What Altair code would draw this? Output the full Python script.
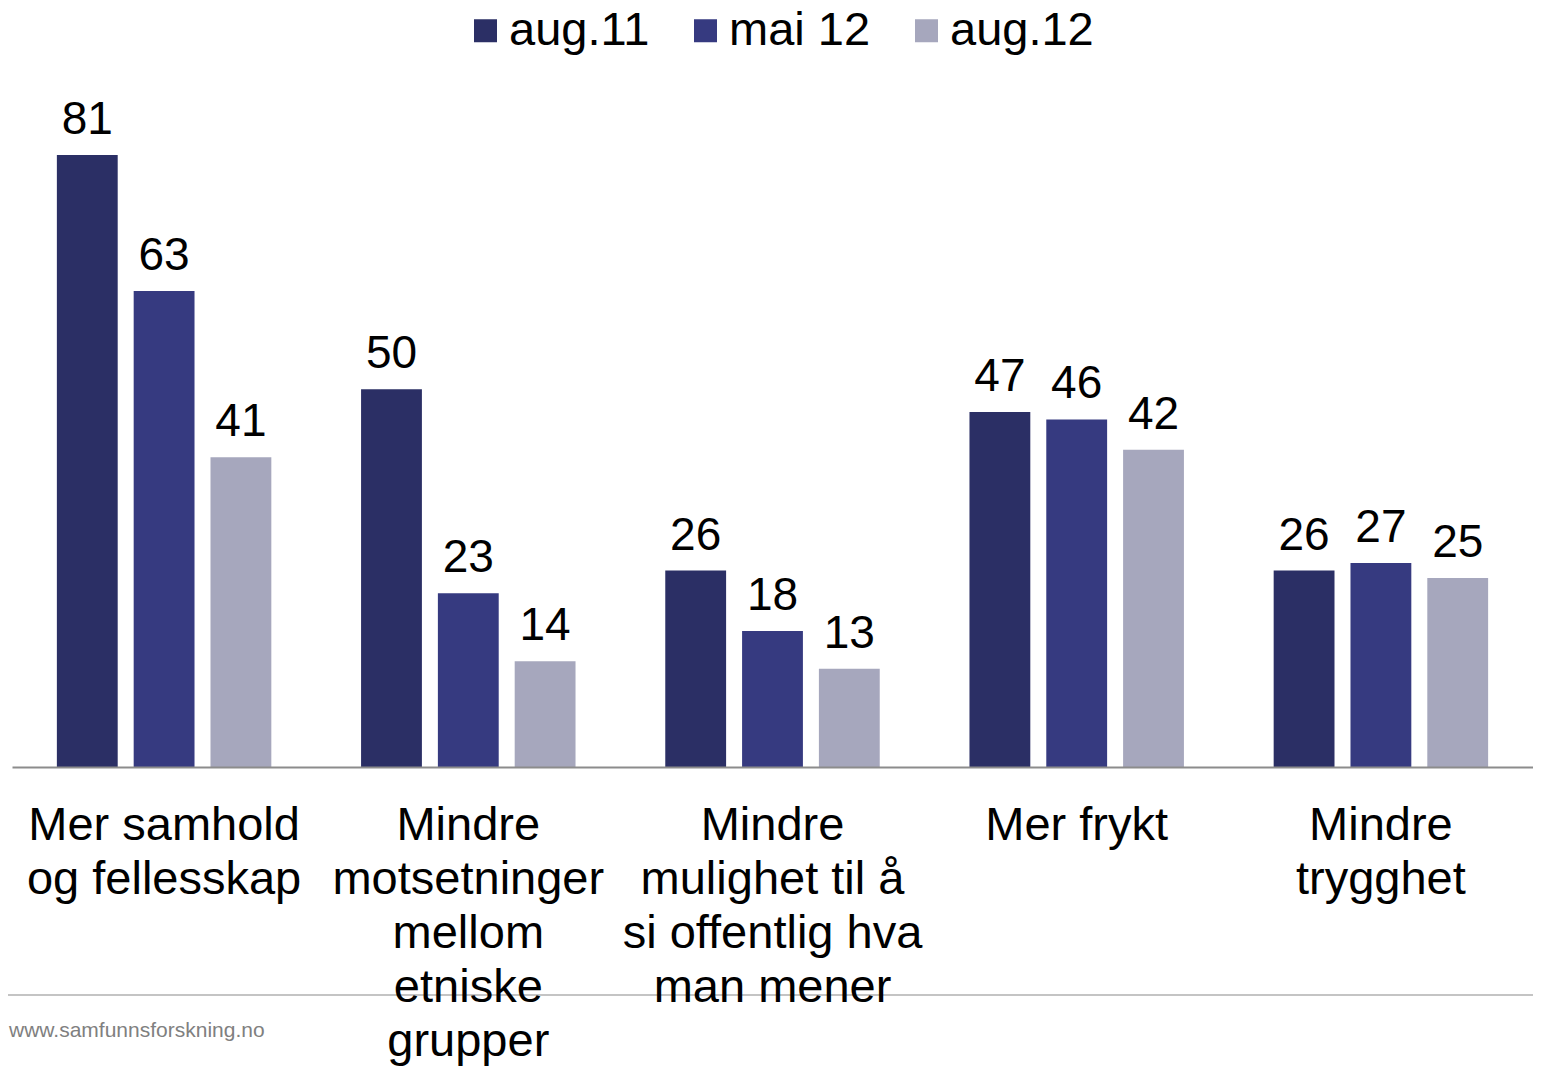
import altair as alt
import pandas as pd

categories = [
    "Mer samhold\nog fellesskap",
    "Mindre\nmotsetninger\nmellom\netniske\ngrupper",
    "Mindre\nmulighet til å\nsi offentlig hva\nman mener",
    "Mer frykt",
    "Mindre\ntrygghet",
]
series = ["aug.11", "mai 12", "aug.12"]
aug11 = [81, 50, 26, 47, 26]
mai12 = [63, 23, 18, 46, 27]
aug12 = [41, 14, 13, 42, 25]
colors = ["#2B2F65", "#363A80", "#A6A7BD"]
footer = "www.samfunnsforskning.no"

rows = []
for s, vals in zip(series, [aug11, mai12, aug12]):
    for c, v in zip(categories, vals):
        rows.append({"kategori": c, "serie": s, "verdi": v})
df = pd.DataFrame(rows)

FONT = "Liberation Sans"
W, H = 1521, 680

x = alt.X(
    "kategori:N",
    sort=categories,
    scale=alt.Scale(paddingInner=0.295, paddingOuter=0.1475),
    axis=alt.Axis(
        title=None,
        labelExpr="split(datum.label, '\\n')",
        labelAngle=0,
        labelFont=FONT,
        labelFontSize=47,
        labelLineHeight=54,
        labelColor="#000000",
        labelPadding=35,
        labelBaseline="top",
        labelLimit=0,
        labelOverlap=False,
        ticks=False,
        domainColor="#8C8C8C",
        domainWidth=2,
        zindex=1,
    ),
)
xo = alt.XOffset("serie:N", sort=series, scale=alt.Scale(paddingInner=0.208, paddingOuter=0))
y = alt.Y("verdi:Q", scale=alt.Scale(domain=[0, 90], nice=False), axis=None)

bars = alt.Chart(df).mark_bar().encode(
    x=x,
    xOffset=xo,
    y=y,
    color=alt.Color(
        "serie:N",
        sort=series,
        scale=alt.Scale(domain=series, range=colors),
        legend=alt.Legend(
            orient="none",
            legendX=450,
            legendY=-80,
            direction="horizontal",
            title=None,
            labelFont=FONT,
            labelFontSize=47,
            labelColor="#000000",
            labelLimit=400,
            symbolType="square",
            symbolSize=529,
            symbolStrokeWidth=0,
            labelOffset=0,
            columnPadding=32,
            padding=0,
        ),
    ),
)

labels = alt.Chart(df).mark_text(
    font=FONT, fontSize=46, color="#000000", baseline="alphabetic", dy=-21
).encode(x=x, xOffset=xo, y=y, text="verdi:Q")

sep = alt.Chart(pd.DataFrame({"k": [0]})).mark_rule(color="#C4C4C4", strokeWidth=2).encode(
    x=alt.value(-4), x2=alt.value(W), y=alt.value(908)
)

foot = alt.Chart(pd.DataFrame({"t": [footer]})).mark_text(
    font=FONT, fontSize=21, color="#808080", align="left", baseline="alphabetic"
).encode(x=alt.value(-3), y=alt.value(950), text="t:N")

chart = alt.layer(sep, bars, labels, foot).properties(
    width=W,
    height=H,
    autosize=alt.AutoSizeParams(type="none"),
    padding={"left": 4, "top": 79, "right": 0, "bottom": 300},
).configure_view(stroke=None)

chart.save("out.html", embed_options={"renderer": "svg", "actions": False})
